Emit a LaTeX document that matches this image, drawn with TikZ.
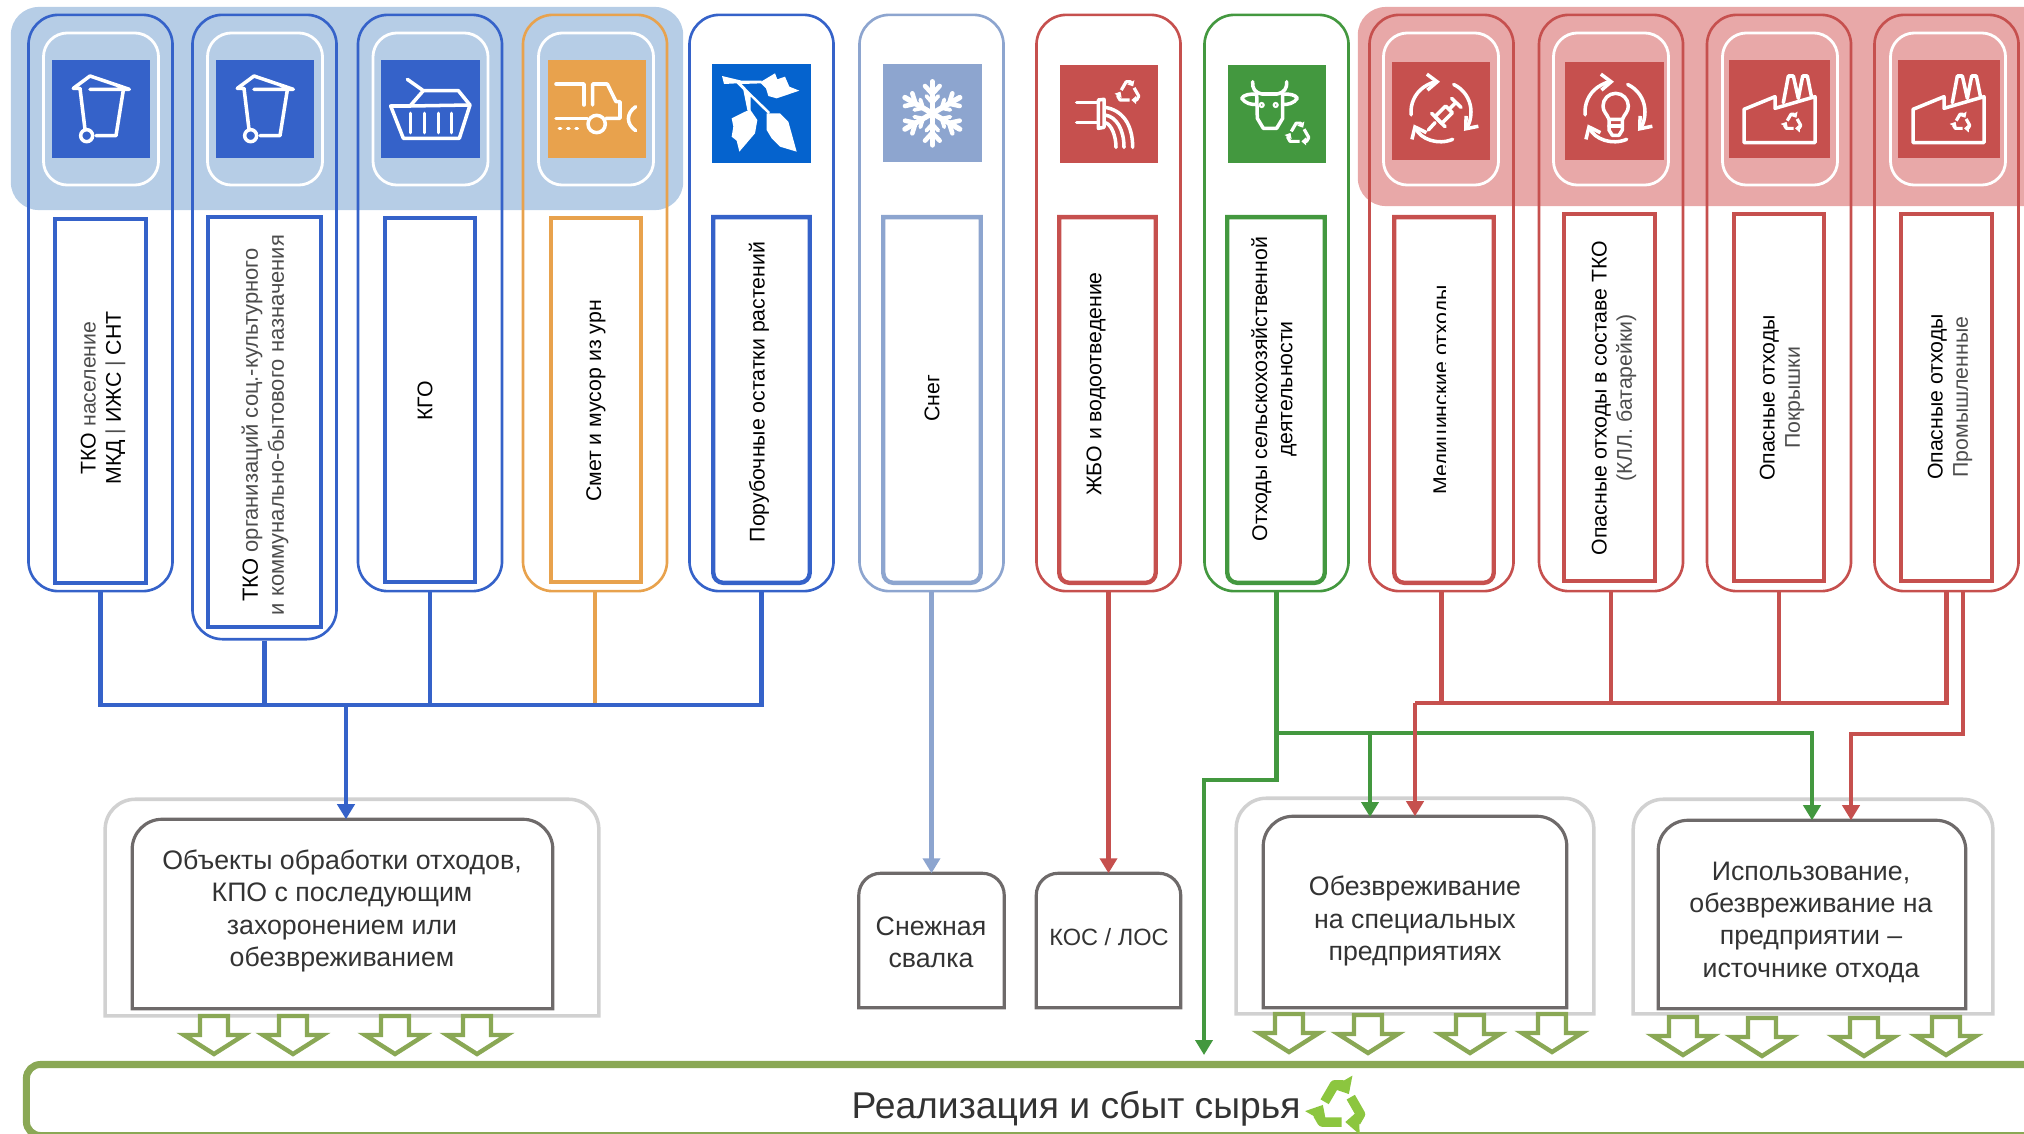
\documentclass[tikz,border=0pt]{standalone}
\usepackage{fontspec}
\setmainfont{Liberation Sans}
\usetikzlibrary{arrows.meta}
\definecolor{sinij}{HTML}{3562C9}
\definecolor{yarksin}{HTML}{0563CE}
\definecolor{golub}{HTML}{8DA5CF}
\definecolor{oranzh}{HTML}{E8A24D}
\definecolor{krasn}{HTML}{C6504E}
\definecolor{zelen}{HTML}{43983F}
\definecolor{olivka}{HTML}{8AA855}
\definecolor{seryj}{HTML}{6E6A6A}
\definecolor{fonsin}{HTML}{B6CDE6}
\definecolor{fonkr}{HTML}{E8A8A8}
\definecolor{salat}{HTML}{8CC63F}
\tikzset{
	x=0.01cm,y=-0.01cm,
	polosa/.style={fill=#1,rounded corners=0.28cm,inner sep=0pt},
	kol/.style={draw=#1,line width=0.75pt,rounded corners=0.3cm,minimum width=1.44cm,minimum height=5.76cm,inner sep=0pt},
	belaya/.style={draw=white,line width=0.8pt,rounded corners=0.24cm,minimum width=1.15cm,minimum height=1.52cm,inner sep=0pt},
	kvadrat/.style={fill=#1,minimum width=0.98cm,minimum height=0.98cm,inner sep=0pt},
	yarlyk/.style 2 args={draw=#1,line width=1.25pt,minimum width=#2,minimum height=3.64cm,inner sep=0pt},
	pustoj/.style 2 args={minimum width=#1,minimum height=#2,inner sep=0pt},
	podpis/.style={rotate=90,align=center,inner sep=0pt,font=\fontsize{6.05}{7.2}\selectfont},
	tekst/.style={align=center,inner sep=0pt,text=black!80,font=\fontsize{7.6}{9.2}\selectfont},
	obvod/.style={draw=#1,line width=0.9pt},
	provod/.style={draw=#1,line width=1.2pt},
	ostrie/.style={provod=#1,-{Triangle[length=1.5mm,width=1.7mm]}},
	ikonka/.style={draw=white,line width=1pt,line cap=round,line join=round},
	strelka/.pic={
		\draw[draw=olivka,fill=white,line width=1.25pt] (-14,-20) -- (14,-20) -- (14,-1) -- (30,-1) -- (0,18) -- (-30,-1) -- (-14,-1) -- cycle;
	},
	recycle/.pic={
		\foreach \a in {0,120,240}{
			\draw[rotate=\a,line join=round,-{Triangle[length=0pt 1.5,width=0pt 2.5]}] (-4.8,-1.75) -- (-1.5,-7.4) -- (1.5,-7.4) -- (3.3,-4.3);
		}
	},
	bak/.pic={
		\draw[ikonka] (100,115) -- (150,78) -- (268,118) -- (150,118);
		\draw[ikonka] (100,115) -- (120,115) -- (135,238);
		\draw[ikonka] (140,257) circle (18);
		\draw[ikonka] (168,257) -- (228,257) -- (250,120);
	},
	korzina/.pic={
		\draw[ikonka] (112,88) -- (160,122) -- (120,168) -- (62,168) -- (100,265) -- (268,265) -- (300,165) -- (265,122) -- (160,122);
		\draw[ikonka] (122,190) -- (122,248);
		\draw[ikonka] (163,190) -- (163,248);
		\draw[ikonka] (205,190) -- (205,248);
		\draw[ikonka] (245,190) -- (245,248);
		\draw[ikonka] (120,168) -- (298,165);
	},
	mashina/.pic={
		\draw[ikonka] (558,102) -- (642,102) -- (642,165);
		\draw[ikonka] (668,165) -- (668,102) -- (712,102) -- (738,155) -- (750,155) -- (750,205) -- (708,205);
		\draw[ikonka] (558,205) -- (652,205);
		\draw[ikonka] (680,222) circle (26);
		\draw[ikonka] (568,236) -- (572,236);
		\draw[ikonka] (593,236) -- (597,236);
		\draw[ikonka] (618,236) -- (622,236);
		\draw[ikonka] (797,170) .. controls (768,190) and (768,222) .. (797,242);
	},
	vetka/.pic={
		\fill[white] (66,78) -- (125,92) -- (185,92) -- (185,100) -- (125,102) -- (148,126) -- (210,186) -- (205,192) -- (152,140) -- (152,180) -- (142,180) -- (130,120) -- (110,100) -- (72,102) -- cycle;
		\fill[white] (180,97) -- (225,70) -- (232,88) -- (255,80) -- (268,110) -- (298,122) -- (230,145) -- (205,138) -- (198,115) -- cycle;
		\fill[white] (150,178) -- (172,210) -- (165,250) -- (118,305) -- (110,272) -- (95,260) -- (100,230) -- (95,205) -- (125,190) -- cycle;
		\fill[white] (200,190) -- (240,190) -- (265,215) -- (272,240) -- (290,305) -- (240,290) -- (215,265) -- (200,240) -- cycle;
	},
	snezh/.pic={
		\foreach \a in {0,60,120,180,240,300}{
			\begin{scope}[shift={(697,190)},rotate=\a]
				\draw[white,line width=1.5pt,line cap=round] (0,0) -- (0,-95);
				\draw[white,line width=1.3pt,line cap=round] (-22,-82) -- (0,-58) -- (22,-82);
				\draw[white,line width=1.1pt,line cap=round] (-18,-52) -- (0,-32) -- (18,-52);
			\end{scope}
		}
	},
	stok/.pic={
		\draw[ikonka] (80,157) -- (145,157);
		\draw[ikonka] (80,217) -- (145,217);
		\draw[ikonka] (145,150) -- (162,148) -- (162,232) -- (145,235) -- cycle;
		\draw[ikonka] (165,172) .. controls (215,180) and (248,220) .. (248,292);
		\draw[ikonka] (165,195) .. controls (200,200) and (222,240) .. (222,292);
		\draw[ikonka] (165,218) .. controls (185,222) and (198,260) .. (198,292);
		\pic[transform shape,scale=4.4,color=white,line width=0.9pt] at (235,128) {recycle};
	},
	korova/.pic={
		\draw[ikonka] (608,95) .. controls (606,115) and (615,128) .. (635,132) -- (682,132) .. controls (702,128) and (712,115) .. (710,95);
		\draw[ikonka] (622,133) .. controls (600,130) and (580,135) .. (575,145) .. controls (585,160) and (605,165) .. (620,163);
		\draw[ikonka] (696,133) .. controls (718,130) and (738,135) .. (742,145) .. controls (732,160) and (712,165) .. (698,163);
		\draw[ikonka] (620,133) -- (622,205) -- (640,235) -- (680,235) -- (698,205) -- (698,133);
		\draw[white,line width=0.6pt] (635,165) circle (6);
		\draw[white,line width=0.6pt] (677,165) circle (6);
		\pic[transform shape,scale=4.4,color=white,line width=0.9pt] at (745,252) {recycle};
	},
	krugi/.pic={
		\draw[ikonka,-{Straight Barb[length=1mm,width=1.6mm]}] (78.5,194.4) arc[start angle=174,end angle=268,radius=90];
		\draw[ikonka,-{Straight Barb[length=1mm,width=1.6mm]}] (206,103.4) arc[start angle=295,end angle=400,radius=90];
		\draw[ikonka,-{Straight Barb[length=1mm,width=1.6mm]}] (203,268) arc[start angle=67,end angle=155,radius=90];
	},
	shprits/.pic={
		\pic[transform shape] at (0,0) {krugi};
		\draw[ikonka] (130,240) -- (150,218);
		\draw[ikonka] (150,200) -- (182,168) -- (202,188) -- (170,220) -- cycle;
		\draw[ikonka] (140,190) -- (180,230);
		\draw[ikonka] (192,178) -- (212,158);
		\draw[ikonka] (200,145) -- (228,172);
	},
	lampa/.pic={
		\pic[transform shape] at (522,0) {krugi};
		\draw[ikonka] (672,208) .. controls (665,190) and (654,185) .. (654,168) arc[start angle=180,end angle=360,radius=38] .. controls (730,185) and (720,190) .. (712,208) -- cycle;
		\draw[ikonka] (672,208) -- (672,240) -- (682,256) -- (702,256) -- (712,240) -- (712,208);
		\draw[ikonka] (672,228) -- (712,228);
	},
	zavod/.pic={
		\draw[ikonka] (72,278) -- (72,178) -- (165,140) -- (165,175) -- (285,140) -- (285,278) -- cycle;
		\draw[ikonka] (190,158) -- (205,78) -- (220,78) -- (235,145) -- (248,78) -- (262,78) -- (275,143);
		\pic[transform shape,scale=3.4,color=white,line width=0.9pt] at (218,218) {recycle};
	}
}
\begin{document}
\begin{tikzpicture}
							\useasboundingbox (0,0) rectangle (2024,1133);
							\clip (0,0) rectangle (2024,1133);

							\node (sinpolosa) [polosa=fonsin,minimum width=6.72cm,minimum height=2.03cm] at (347,108.5) {};
							\node (krpolosa) [polosa=fonkr,minimum width=7.2cm,minimum height=1.99cm] at (1718,106.5) {};

							\node (b1) [belaya] at (101,109) {};
							\node (b2) [belaya] at (265,109) {};
							\node (b3) [belaya] at (430.5,109) {};
							\node (b4) [belaya] at (596,109) {};
							\node (b9) [belaya] at (1441,109) {};
							\node (b10) [belaya] at (1611,109) {};
							\node (b11) [belaya] at (1780,109) {};
							\node (b12) [belaya] at (1948,109) {};

							\node (k1) [kol=sinij] at (100.5,303) {};
							\node (k2) [kol=sinij,minimum height=6.24cm] at (264.5,327) {};
							\node (k3) [kol=sinij] at (430,303) {};
							\node (k4) [kol=oranzh] at (595,303) {};
							\node (k5) [kol=sinij] at (761.5,303) {};
							\node (k6) [kol=golub] at (931.5,303) {};
							\node (k7) [kol=krasn] at (1108.5,303) {};
							\node (k8) [kol=zelen] at (1276.5,303) {};
							\node (k9) [kol=krasn] at (1441.5,303) {};
							\node (k10) [kol=krasn] at (1611,303) {};
							\node (k11) [kol=krasn] at (1779,303) {};
							\node (k12) [kol=krasn] at (1946.5,303) {};

							\node (i1) [kvadrat=sinij] at (101,109) {};
							\node (i2) [kvadrat=sinij] at (265,109) {};
							\node (i3) [kvadrat=sinij] at (430.5,109) {};
							\node (i4) [kvadrat=oranzh] at (597,109) {};
							\node (i5) [kvadrat=yarksin] at (761.5,113.5) {};
							\node (i6) [kvadrat=golub] at (932.5,113) {};
							\node (i7) [kvadrat=krasn] at (1109,114) {};
							\node (i8) [kvadrat=zelen] at (1277,114) {};
							\node (i9) [kvadrat=krasn] at (1441,111) {};
							\node (i10) [kvadrat=krasn] at (1614.5,111) {};
							\node (i11) [kvadrat=krasn,minimum width=1.01cm] at (1779.5,109) {};
							\node (i12) [kvadrat=krasn,minimum width=1.01cm] at (1949,109) {};

							\pic[scale=1/3] at (40,50) {bak};
							\pic[scale=1/3] at (204,50) {bak};
							\pic[scale=1/3] at (370,50) {korzina};
							\pic[scale=1/3] at (370,50) {mashina};
							\pic[scale=1/3] at (700,50) {vetka};
							\pic[scale=1/3] at (700,50) {snezh};
							\pic[scale=1/3] at (1050,50) {stok};
							\pic[scale=1/3] at (1050,50) {korova};
							\pic[scale=1/3] at (1385,50) {shprits};
							\pic[scale=1/3] at (1385,50) {lampa};
							\pic[scale=1/3] at (1720,50) {zavod};
							\pic[scale=1/3] at (1889,50) {zavod};

							\node (y1) [yarlyk={sinij}{0.91cm}] at (100.5,401) {};
							\node (y2) [yarlyk={sinij}{1.13cm},minimum height=4.1cm] at (264.5,422) {};
							\node (y3) [yarlyk={sinij}{0.9cm}] at (430,400) {};
							\node (y4) [yarlyk={oranzh}{0.9cm}] at (596,400) {};
							\node (y5) [pustoj={0.95cm}{3.64cm}] at (761.5,400) {};
							\node (y6) [pustoj={0.96cm}{3.64cm}] at (932,400) {};
							\node (y7) [pustoj={0.95cm}{3.64cm}] at (1107.5,400) {};
							\node (y8) [pustoj={0.96cm}{3.64cm}] at (1276,400) {};
							\node (y9) [pustoj={0.98cm}{3.64cm}] at (1444,400) {};
							\node (y10) [yarlyk={krasn}{0.91cm},minimum height=3.67cm] at (1609.5,397.5) {};
							\node (y11) [yarlyk={krasn}{0.9cm},minimum height=3.67cm] at (1779,397.5) {};
							\node (y12) [yarlyk={krasn}{0.91cm},minimum height=3.67cm] at (1946.5,397.5) {};
							\draw[sinij,line width=1.25pt] (y5.north west) -- (y5.north east) [rounded corners=0.1cm] -- (y5.south east) -- (y5.south west) [sharp corners] -- cycle;
							\draw[golub,line width=1.25pt] (y6.north west) -- (y6.north east) [rounded corners=0.1cm] -- (y6.south east) -- (y6.south west) [sharp corners] -- cycle;
							\draw[krasn,line width=1.25pt] (y7.north west) -- (y7.north east) [rounded corners=0.1cm] -- (y7.south east) -- (y7.south west) [sharp corners] -- cycle;
							\draw[zelen,line width=1.25pt] (y8.north west) -- (y8.north east) [rounded corners=0.1cm] -- (y8.south east) -- (y8.south west) [sharp corners] -- cycle;
							\draw[krasn,line width=1.25pt] (y9.north west) -- (y9.north east) [rounded corners=0.1cm] -- (y9.south east) -- (y9.south west) [sharp corners] -- cycle;

							\node (t1) [podpis] at (103,398) {ТКО {\color{black!70}население}\\МКД {\color{black!70}|} ИЖС {\color{black!70}|} СНТ};
							\node (t2) [podpis,font=\fontsize{6.25}{7.4}\selectfont] at (265,425) {ТКО {\color{black!70}организаций соц.-культурного}\\{\color{black!70}и коммунально-бытового назначения}};
							\node (t3) [podpis] at (425,401) {КГО};
							\node (t4) [podpis] at (596,401) {Смет и мусор из урн};
							\node (t5) [podpis] at (759,392) {Порубочные остатки растений};
							\node (t6) [podpis] at (932,398) {Снег};
							\node (t7) [podpis] at (1096,384) {ЖБО и водоотведение};
							\node (t8) [podpis] at (1274,389) {Отходы сельскохозяйственной\\деятельности};
							\begin{scope}
								\clip (1425,270) rectangle (1445.5,510);
								\node (t9) [podpis] at (1443,390) {Медицинские отходы};
							\end{scope}
							\node (t10) [podpis] at (1614,398) {Опасные отходы в составе ТКО\\{\color{black!70}(КЛЛ. батарейки)}};
							\node (t11) [podpis] at (1782,398) {Опасные отходы\\{\color{black!70}Покрышки}};
							\node (t12) [podpis] at (1950,397) {Опасные отходы\\{\color{black!70}Промышленные}};

							\node (n1) [pustoj={4.92cm}{2.15cm}] at (352,907.5) {};
							\node (n4) [pustoj={3.56cm}{2.14cm}] at (1415,906) {};
							\node (n5) [pustoj={3.58cm}{2.13cm}] at (1813,906.5) {};
							\draw[draw=black!18,line width=1pt] (n1.south west) [rounded corners=0.3cm] -- (n1.north west) -- (n1.north east) [sharp corners] -- (n1.south east) -- cycle;
							\draw[draw=black!18,line width=1pt] (n4.south west) [rounded corners=0.3cm] -- (n4.north west) -- (n4.north east) [sharp corners] -- (n4.south east) -- cycle;
							\draw[draw=black!18,line width=1pt] (n5.south west) [rounded corners=0.3cm] -- (n5.north west) -- (n5.north east) [sharp corners] -- (n5.south east) -- cycle;

							\node (ob1) [pustoj={4.19cm}{1.88cm}] at (342.5,914) {};
							\node (ob2) [pustoj={1.44cm}{1.33cm}] at (931.5,940.5) {};
							\node (ob3) [pustoj={1.43cm}{1.33cm}] at (1108.5,940.5) {};
							\node (ob4) [pustoj={3.02cm}{1.9cm}] at (1415,912) {};
							\node (ob5) [pustoj={3.06cm}{1.87cm}] at (1812,914.5) {};
							\draw[obvod=seryj] (ob1.south west) [rounded corners=0.3cm] -- (ob1.north west) -- (ob1.north east) [sharp corners] -- (ob1.south east) -- cycle;
							\draw[obvod=seryj] (ob2.south west) [rounded corners=0.22cm] -- (ob2.north west) -- (ob2.north east) [sharp corners] -- (ob2.south east) -- cycle;
							\draw[obvod=seryj] (ob3.south west) [rounded corners=0.22cm] -- (ob3.north west) -- (ob3.north east) [sharp corners] -- (ob3.south east) -- cycle;
							\draw[obvod=seryj] (ob4.south west) [rounded corners=0.3cm] -- (ob4.north west) -- (ob4.north east) [sharp corners] -- (ob4.south east) -- cycle;
							\draw[obvod=seryj] (ob5.south west) [rounded corners=0.3cm] -- (ob5.north west) -- (ob5.north east) [sharp corners] -- (ob5.south east) -- cycle;

							\node (o1) [tekst] at (342,911) {Объекты обработки отходов,\\КПО с последующим\\захоронением или\\обезвреживанием};
							\node (o2) [tekst] at (931,942) {Снежная\\свалка};
							\node (o3) [tekst,font=\fontsize{6.7}{8}\selectfont] at (1109,937) {КОС / ЛОС};
							\node (o4) [tekst] at (1415,921) {Обезвреживание\\на специальных\\предприятиях};
							\node (o5) [tekst] at (1811,922) {Использование,\\обезвреживание на\\предприятии –\\источнике отхода};

							\coordinate (sinshina) at (346,705);
							\coordinate (zelrazv) at (1276.5,733);
							\coordinate (zelgib) at (1276.5,780);
							\coordinate (zellev) at (1204,780);
							\coordinate (zelniz) at (1204,1055);
							\coordinate (zelob) at (1370,817);
							\coordinate (krshina) at (1415,703);
							\coordinate (kk12) at (1963,591);
							\coordinate (krgib) at (1851,734);

							\draw[provod=oranzh] (k4.south) -- (k4.south |- sinshina);
							\draw[provod=sinij] (k1.south) |- (sinshina);
							\draw[provod=sinij] (k2.south) |- (sinshina);
							\draw[provod=sinij] (k3.south) |- (sinshina);
							\draw[provod=sinij] (k5.south) |- (sinshina);
							\draw[ostrie=sinij] (sinshina) -- (sinshina |- ob1.north);
							\draw[ostrie=golub] (k6.south) -- (ob2.north);
							\draw[ostrie=krasn] (k7.south) -- (ob3.north);

							\draw[ostrie=zelen] (k8.south) -- (zelgib) -- (zellev) -- (zelniz);
							\draw[ostrie=zelen] (zelrazv) -| (zelob);
							\draw[ostrie=zelen] (zelrazv) -| (ob5.north);

							\draw[provod=krasn] (k9.south) |- (krshina);
							\draw[provod=krasn] (k10.south) |- (krshina);
							\draw[provod=krasn] (k11.south) |- (krshina);
							\draw[provod=krasn] (k12.south) |- (krshina);
							\draw[ostrie=krasn] (krshina) -- (ob4.north);
							\draw[ostrie=krasn] (kk12) |- (krgib) -- (krgib |- ob5.north);

							\pic at (214,1036) {strelka};
							\pic at (293,1036) {strelka};
							\pic at (395,1036) {strelka};
							\pic at (477,1036) {strelka};
							\pic at (1289,1034) {strelka};
							\pic at (1368,1035) {strelka};
							\pic at (1470,1035) {strelka};
							\pic at (1552,1034) {strelka};
							\pic at (1683,1037) {strelka};
							\pic at (1762,1038) {strelka};
							\pic at (1864,1038) {strelka};
							\pic at (1946,1037) {strelka};

							\node (sbyt) [draw=olivka,line width=2pt,rounded corners=0.14cm,minimum width=20.8cm,minimum height=0.71cm,inner sep=0pt] at (1067,1100) {};
							\node (sbyttekst) [inner sep=0pt,text=black!80,font=\fontsize{10.6}{12}\selectfont] at (1076,1109) {Реализация и сбыт сырья};
							\pic[scale=3,color=salat,line width=2.7pt] at (1339,1107) {recycle};
						\end{tikzpicture}
\end{document}
